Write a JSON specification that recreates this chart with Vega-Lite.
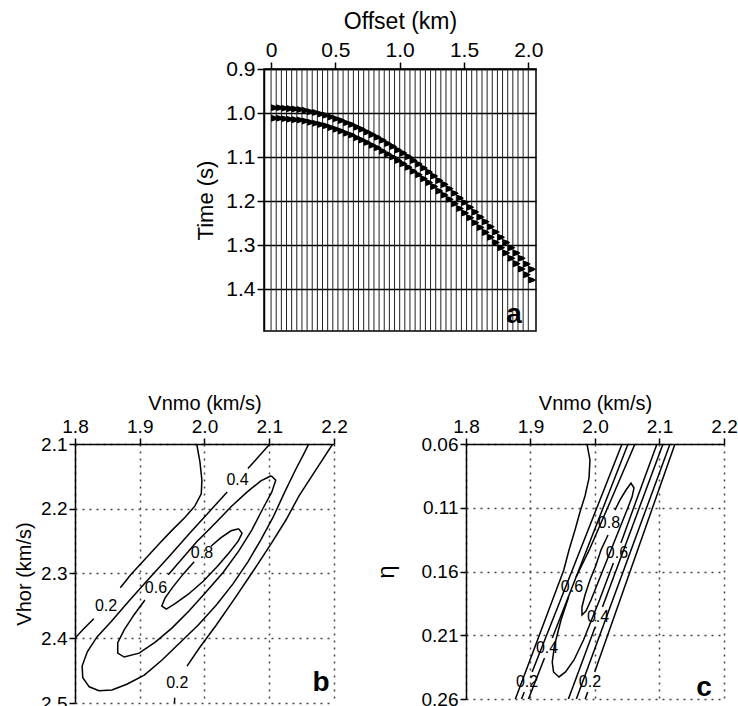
{
"$schema": "https://vega.github.io/schema/vega-lite/v6.json",
"padding": {"left": 14, "top": 9, "right": 0, "bottom": 0},
"spacing": 60,
"config": {
  "view": {"stroke": null},
  "axis": {"labelFont": "Liberation Sans", "titleFont": "Liberation Sans", "labelColor": "#000", "titleColor": "#000", "domainColor": "#000", "tickColor": "#000", "titleFontWeight": "normal", "labelFlush": false, "labelOverlap": false, "domainWidth": 1.5, "tickWidth": 1.5},
  "text": {"font": "Liberation Sans", "color": "#000"}
},
"vconcat": [
  {"hconcat": [
    {"width": 119, "height": 262, "data": {"values": []}, "mark": "point"},
    {"width": 272, "height": 262,
     "view": {"stroke": "#000", "strokeWidth": 1.5},
     "data": {"values": "o,t,x\n0,0.98,0\n0,0.984,0.04\n0,0.988,0.06\n0,0.992,0.04\n0,0.996,0\n0,1.004,0\n0,1.008,0.04\n0,1.012,0.06\n0,1.016,0.04\n0,1.02,0\n0.04,0.98,0.04\n0.04,0.984,0.08\n0.04,0.988,0.1\n0.04,0.992,0.08\n0.04,0.996,0.04\n0.04,1.004,0.04\n0.04,1.008,0.08\n0.04,1.012,0.1\n0.04,1.016,0.08\n0.04,1.02,0.04\n0.08,0.981,0.08\n0.08,0.985,0.12\n0.08,0.989,0.14\n0.08,0.993,0.12\n0.08,0.997,0.08\n0.08,1.005,0.08\n0.08,1.009,0.12\n0.08,1.013,0.14\n0.08,1.017,0.12\n0.08,1.021,0.08\n0.12,0.982,0.12\n0.12,0.986,0.16\n0.12,0.99,0.18\n0.12,0.994,0.16\n0.12,0.998,0.12\n0.12,1.006,0.12\n0.12,1.01,0.16\n0.12,1.014,0.18\n0.12,1.018,0.16\n0.12,1.022,0.12\n0.16,0.983,0.16\n0.16,0.987,0.2\n0.16,0.991,0.22\n0.16,0.995,0.2\n0.16,0.999,0.16\n0.16,1.007,0.16\n0.16,1.011,0.2\n0.16,1.015,0.22\n0.16,1.019,0.2\n0.16,1.023,0.16\n0.2,0.984,0.2\n0.2,0.988,0.24\n0.2,0.992,0.26\n0.2,0.996,0.24\n0.2,1,0.2\n0.2,1.008,0.2\n0.2,1.012,0.24\n0.2,1.016,0.26\n0.2,1.02,0.24\n0.2,1.024,0.2\n0.24,0.986,0.24\n0.24,0.99,0.28\n0.24,0.994,0.3\n0.24,0.998,0.28\n0.24,1.002,0.24\n0.24,1.01,0.24\n0.24,1.014,0.28\n0.24,1.018,0.3\n0.24,1.022,0.28\n0.24,1.026,0.24\n0.28,0.989,0.28\n0.28,0.993,0.32\n0.28,0.997,0.34\n0.28,1.001,0.32\n0.28,1.005,0.28\n0.28,1.013,0.28\n0.28,1.017,0.32\n0.28,1.021,0.34\n0.28,1.025,0.32\n0.28,1.029,0.28\n0.32,0.991,0.32\n0.32,0.995,0.36\n0.32,0.999,0.38\n0.32,1.003,0.36\n0.32,1.007,0.32\n0.32,1.015,0.32\n0.32,1.019,0.36\n0.32,1.023,0.38\n0.32,1.027,0.36\n0.32,1.031,0.32\n0.36,0.994,0.36\n0.36,0.998,0.4\n0.36,1.002,0.42\n0.36,1.006,0.4\n0.36,1.01,0.36\n0.36,1.018,0.36\n0.36,1.022,0.4\n0.36,1.026,0.42\n0.36,1.03,0.4\n0.36,1.034,0.36\n0.4,0.997,0.4\n0.4,1.001,0.44\n0.4,1.005,0.46\n0.4,1.009,0.44\n0.4,1.013,0.4\n0.4,1.021,0.4\n0.4,1.025,0.44\n0.4,1.029,0.46\n0.4,1.033,0.44\n0.4,1.037,0.4\n0.44,1.001,0.44\n0.44,1.005,0.48\n0.44,1.009,0.5\n0.44,1.013,0.48\n0.44,1.017,0.44\n0.44,1.025,0.44\n0.44,1.029,0.48\n0.44,1.033,0.5\n0.44,1.037,0.48\n0.44,1.041,0.44\n0.48,1.005,0.48\n0.48,1.009,0.52\n0.48,1.013,0.54\n0.48,1.017,0.52\n0.48,1.021,0.48\n0.48,1.029,0.48\n0.48,1.033,0.52\n0.48,1.037,0.54\n0.48,1.041,0.52\n0.48,1.045,0.48\n0.52,1.009,0.52\n0.52,1.013,0.56\n0.52,1.017,0.58\n0.52,1.021,0.56\n0.52,1.025,0.52\n0.52,1.033,0.52\n0.52,1.037,0.56\n0.52,1.041,0.58\n0.52,1.045,0.56\n0.52,1.049,0.52\n0.56,1.014,0.56\n0.56,1.018,0.6\n0.56,1.022,0.62\n0.56,1.026,0.6\n0.56,1.03,0.56\n0.56,1.038,0.56\n0.56,1.042,0.6\n0.56,1.046,0.62\n0.56,1.05,0.6\n0.56,1.054,0.56\n0.6,1.018,0.6\n0.6,1.022,0.64\n0.6,1.026,0.66\n0.6,1.03,0.64\n0.6,1.034,0.6\n0.6,1.042,0.6\n0.6,1.046,0.64\n0.6,1.05,0.66\n0.6,1.054,0.64\n0.6,1.058,0.6\n0.64,1.024,0.64\n0.64,1.028,0.68\n0.64,1.032,0.7\n0.64,1.036,0.68\n0.64,1.04,0.64\n0.64,1.048,0.64\n0.64,1.052,0.68\n0.64,1.056,0.7\n0.64,1.06,0.68\n0.64,1.064,0.64\n0.68,1.029,0.68\n0.68,1.033,0.72\n0.68,1.037,0.74\n0.68,1.041,0.72\n0.68,1.045,0.68\n0.68,1.053,0.68\n0.68,1.057,0.72\n0.68,1.061,0.74\n0.68,1.065,0.72\n0.68,1.069,0.68\n0.72,1.035,0.72\n0.72,1.039,0.76\n0.72,1.043,0.78\n0.72,1.047,0.76\n0.72,1.051,0.72\n0.72,1.059,0.72\n0.72,1.063,0.76\n0.72,1.067,0.78\n0.72,1.071,0.76\n0.72,1.075,0.72\n0.76,1.041,0.76\n0.76,1.045,0.8\n0.76,1.049,0.82\n0.76,1.053,0.8\n0.76,1.057,0.76\n0.76,1.065,0.76\n0.76,1.069,0.8\n0.76,1.073,0.82\n0.76,1.077,0.8\n0.76,1.081,0.76\n0.8,1.047,0.8\n0.8,1.051,0.84\n0.8,1.055,0.86\n0.8,1.059,0.84\n0.8,1.063,0.8\n0.8,1.071,0.8\n0.8,1.075,0.84\n0.8,1.079,0.86\n0.8,1.083,0.84\n0.8,1.087,0.8\n0.84,1.054,0.84\n0.84,1.058,0.88\n0.84,1.062,0.9\n0.84,1.066,0.88\n0.84,1.07,0.84\n0.84,1.078,0.84\n0.84,1.082,0.88\n0.84,1.086,0.9\n0.84,1.09,0.88\n0.84,1.094,0.84\n0.88,1.061,0.88\n0.88,1.065,0.92\n0.88,1.069,0.94\n0.88,1.073,0.92\n0.88,1.077,0.88\n0.88,1.085,0.88\n0.88,1.089,0.92\n0.88,1.093,0.94\n0.88,1.097,0.92\n0.88,1.101,0.88\n0.92,1.068,0.92\n0.92,1.072,0.96\n0.92,1.076,0.98\n0.92,1.08,0.96\n0.92,1.084,0.92\n0.92,1.092,0.92\n0.92,1.096,0.96\n0.92,1.1,0.98\n0.92,1.104,0.96\n0.92,1.108,0.92\n0.96,1.076,0.96\n0.96,1.08,1\n0.96,1.084,1.02\n0.96,1.088,1\n0.96,1.092,0.96\n0.96,1.1,0.96\n0.96,1.104,1\n0.96,1.108,1.02\n0.96,1.112,1\n0.96,1.116,0.96\n1,1.083,1\n1,1.087,1.04\n1,1.091,1.06\n1,1.095,1.04\n1,1.099,1\n1,1.107,1\n1,1.111,1.04\n1,1.115,1.06\n1,1.119,1.04\n1,1.123,1\n1.04,1.091,1.04\n1.04,1.095,1.08\n1.04,1.099,1.1\n1.04,1.103,1.08\n1.04,1.107,1.04\n1.04,1.115,1.04\n1.04,1.119,1.08\n1.04,1.123,1.1\n1.04,1.127,1.08\n1.04,1.131,1.04\n1.08,1.1,1.08\n1.08,1.104,1.12\n1.08,1.108,1.14\n1.08,1.112,1.12\n1.08,1.116,1.08\n1.08,1.124,1.08\n1.08,1.128,1.12\n1.08,1.132,1.14\n1.08,1.136,1.12\n1.08,1.14,1.08\n1.12,1.108,1.12\n1.12,1.112,1.16\n1.12,1.116,1.18\n1.12,1.12,1.16\n1.12,1.124,1.12\n1.12,1.132,1.12\n1.12,1.136,1.16\n1.12,1.14,1.18\n1.12,1.144,1.16\n1.12,1.148,1.12\n1.16,1.117,1.16\n1.16,1.121,1.2\n1.16,1.125,1.22\n1.16,1.129,1.2\n1.16,1.133,1.16\n1.16,1.141,1.16\n1.16,1.145,1.2\n1.16,1.149,1.22\n1.16,1.153,1.2\n1.16,1.157,1.16\n1.2,1.126,1.2\n1.2,1.13,1.24\n1.2,1.134,1.26\n1.2,1.138,1.24\n1.2,1.142,1.2\n1.2,1.15,1.2\n1.2,1.154,1.24\n1.2,1.158,1.26\n1.2,1.162,1.24\n1.2,1.166,1.2\n1.24,1.135,1.24\n1.24,1.139,1.28\n1.24,1.143,1.3\n1.24,1.147,1.28\n1.24,1.151,1.24\n1.24,1.159,1.24\n1.24,1.163,1.28\n1.24,1.167,1.3\n1.24,1.171,1.28\n1.24,1.175,1.24\n1.28,1.145,1.28\n1.28,1.149,1.32\n1.28,1.153,1.34\n1.28,1.157,1.32\n1.28,1.161,1.28\n1.28,1.169,1.28\n1.28,1.173,1.32\n1.28,1.177,1.34\n1.28,1.181,1.32\n1.28,1.185,1.28\n1.32,1.154,1.32\n1.32,1.158,1.36\n1.32,1.162,1.38\n1.32,1.166,1.36\n1.32,1.17,1.32\n1.32,1.178,1.32\n1.32,1.182,1.36\n1.32,1.186,1.38\n1.32,1.19,1.36\n1.32,1.194,1.32\n1.36,1.164,1.36\n1.36,1.168,1.4\n1.36,1.172,1.42\n1.36,1.176,1.4\n1.36,1.18,1.36\n1.36,1.188,1.36\n1.36,1.192,1.4\n1.36,1.196,1.42\n1.36,1.2,1.4\n1.36,1.204,1.36\n1.4,1.174,1.4\n1.4,1.178,1.44\n1.4,1.182,1.46\n1.4,1.186,1.44\n1.4,1.19,1.4\n1.4,1.198,1.4\n1.4,1.202,1.44\n1.4,1.206,1.46\n1.4,1.21,1.44\n1.4,1.214,1.4\n1.44,1.185,1.44\n1.44,1.189,1.48\n1.44,1.193,1.5\n1.44,1.197,1.48\n1.44,1.201,1.44\n1.44,1.209,1.44\n1.44,1.213,1.48\n1.44,1.217,1.5\n1.44,1.221,1.48\n1.44,1.225,1.44\n1.48,1.195,1.48\n1.48,1.199,1.52\n1.48,1.203,1.54\n1.48,1.207,1.52\n1.48,1.211,1.48\n1.48,1.219,1.48\n1.48,1.223,1.52\n1.48,1.227,1.54\n1.48,1.231,1.52\n1.48,1.235,1.48\n1.52,1.206,1.52\n1.52,1.21,1.56\n1.52,1.214,1.58\n1.52,1.218,1.56\n1.52,1.222,1.52\n1.52,1.23,1.52\n1.52,1.234,1.56\n1.52,1.238,1.58\n1.52,1.242,1.56\n1.52,1.246,1.52\n1.56,1.217,1.56\n1.56,1.221,1.6\n1.56,1.225,1.62\n1.56,1.229,1.6\n1.56,1.233,1.56\n1.56,1.241,1.56\n1.56,1.245,1.6\n1.56,1.249,1.62\n1.56,1.253,1.6\n1.56,1.257,1.56\n1.6,1.228,1.6\n1.6,1.232,1.64\n1.6,1.236,1.66\n1.6,1.24,1.64\n1.6,1.244,1.6\n1.6,1.252,1.6\n1.6,1.256,1.64\n1.6,1.26,1.66\n1.6,1.264,1.64\n1.6,1.268,1.6\n1.64,1.239,1.64\n1.64,1.243,1.68\n1.64,1.247,1.7\n1.64,1.251,1.68\n1.64,1.255,1.64\n1.64,1.263,1.64\n1.64,1.267,1.68\n1.64,1.271,1.7\n1.64,1.275,1.68\n1.64,1.279,1.64\n1.68,1.25,1.68\n1.68,1.254,1.72\n1.68,1.258,1.74\n1.68,1.262,1.72\n1.68,1.266,1.68\n1.68,1.274,1.68\n1.68,1.278,1.72\n1.68,1.282,1.74\n1.68,1.286,1.72\n1.68,1.29,1.68\n1.72,1.262,1.72\n1.72,1.266,1.76\n1.72,1.27,1.78\n1.72,1.274,1.76\n1.72,1.278,1.72\n1.72,1.286,1.72\n1.72,1.29,1.76\n1.72,1.294,1.78\n1.72,1.298,1.76\n1.72,1.302,1.72\n1.76,1.274,1.76\n1.76,1.278,1.8\n1.76,1.282,1.82\n1.76,1.286,1.8\n1.76,1.29,1.76\n1.76,1.298,1.76\n1.76,1.302,1.8\n1.76,1.306,1.82\n1.76,1.31,1.8\n1.76,1.314,1.76\n1.8,1.286,1.8\n1.8,1.29,1.84\n1.8,1.294,1.86\n1.8,1.298,1.84\n1.8,1.302,1.8\n1.8,1.31,1.8\n1.8,1.314,1.84\n1.8,1.318,1.86\n1.8,1.322,1.84\n1.8,1.326,1.8\n1.84,1.298,1.84\n1.84,1.302,1.88\n1.84,1.306,1.9\n1.84,1.31,1.88\n1.84,1.314,1.84\n1.84,1.322,1.84\n1.84,1.326,1.88\n1.84,1.33,1.9\n1.84,1.334,1.88\n1.84,1.338,1.84\n1.88,1.31,1.88\n1.88,1.314,1.92\n1.88,1.318,1.94\n1.88,1.322,1.92\n1.88,1.326,1.88\n1.88,1.334,1.88\n1.88,1.338,1.92\n1.88,1.342,1.94\n1.88,1.346,1.92\n1.88,1.35,1.88\n1.92,1.322,1.92\n1.92,1.326,1.96\n1.92,1.33,1.98\n1.92,1.334,1.96\n1.92,1.338,1.92\n1.92,1.346,1.92\n1.92,1.35,1.96\n1.92,1.354,1.98\n1.92,1.358,1.96\n1.92,1.362,1.92\n1.96,1.335,1.96\n1.96,1.339,2\n1.96,1.343,2.02\n1.96,1.347,2\n1.96,1.351,1.96\n1.96,1.359,1.96\n1.96,1.363,2\n1.96,1.367,2.02\n1.96,1.371,2\n1.96,1.375,1.96\n2,1.347,2\n2,1.351,2.04\n2,1.355,2.06\n2,1.359,2.04\n2,1.363,2\n2,1.371,2\n2,1.375,2.04\n2,1.379,2.06\n2,1.383,2.04\n2,1.387,2", "format": {"type": "csv", "parse": {"o": "number", "t": "number", "x": "number"}}},
     "layer": [
        {"transform": [{"aggregate": [], "groupby": ["o"]}],
         "mark": {"type": "rule", "color": "#222", "strokeWidth": 1},
         "encoding": {"x": {"field": "o", "type": "quantitative", "scale": {"domain": [-0.055, 2.06], "nice": false, "zero": false},
           "axis": {"orient": "top", "values": [0, 0.5, 1, 1.5, 2], "labelExpr": "datum.value == 0 ? '0' : format(datum.value, '.1f')", "title": "Offset (km)", "titleFontSize": 23, "labelFontSize": 21, "tickSize": 7, "labelPadding": 2, "titlePadding": 6, "grid": false}}}},
        {"mark": {"type": "area", "orient": "horizontal", "color": "#000", "opacity": 1, "clip": true},
         "encoding": {"x": {"field": "x", "type": "quantitative", "stack": null}, "x2": {"field": "o"}, "y": {"field": "t", "type": "quantitative", "scale": {"domain": [0.9, 1.495], "reverse": true, "nice": false, "zero": false},
           "axis": {"values": [0.9, 1.0, 1.1, 1.2, 1.3, 1.4], "format": ".1f", "title": "Time (s)", "titleFontSize": 22, "labelFontSize": 21, "tickSize": 7, "labelPadding": 2, "titlePadding": 8, "grid": true, "gridColor": "#000", "gridWidth": 1.5, "gridOpacity": 1}},
           "detail": {"field": "o"}}},
        {"data": {"values": [{"x": 1.889, "t": 1.459, "s": "a"}]},
         "mark": {"type": "text", "fontSize": 28, "fontWeight": "bold"},
         "encoding": {"x": {"field": "x", "type": "quantitative"}, "y": {"field": "t", "type": "quantitative"}, "text": {"field": "s"}}}
     ]}
  ], "spacing": 0},
  {"hconcat": [
    {"width": 259, "height": 259,
     "encoding": {
         "x": {"field": "v", "type": "quantitative", "scale": {"domain": [1.8, 2.2], "nice": false, "zero": false},
           "axis": {"orient": "top", "values": [1.8, 1.9, 2.0, 2.1, 2.2], "format": ".1f", "title": "Vnmo (km/s)", "titleFontSize": 20, "labelFontSize": 19, "tickSize": 6, "labelPadding": 2, "titlePadding": 4, "grid": true, "gridDash": [2, 5], "gridColor": "#444", "gridWidth": 1.5}},
         "y": {"field": "h", "type": "quantitative", "scale": {"domain": [2.1, 2.5], "reverse": true, "nice": false, "zero": false},
           "axis": {"values": [2.1, 2.2, 2.3, 2.4, 2.5], "format": ".1f", "title": "Vhor (km/s)", "titleFontSize": 20, "labelFontSize": 19, "tickSize": 6, "labelPadding": 2, "titlePadding": 6, "grid": true, "gridDash": [2, 5], "gridColor": "#444", "gridWidth": 1.5}}},
     "layer": [
      {"data": {"values": "id,k,v,h\nb1,1,1.988,2.1\nb1,2,1.993,2.128\nb1,3,1.996,2.156\nb1,4,1.995,2.177\nb1,5,1.985,2.196\nb1,6,1.97,2.213\nb1,7,1.95,2.233\nb1,8,1.93,2.254\nb1,9,1.908,2.278\nb1,10,1.886,2.302\nb1,11,1.87,2.322\nb2,1,1.829,2.37\nb2,2,1.812,2.387\nb2,3,1.8,2.4\nb2,4,1.791,2.409\nb3,1,2.101,2.1\nb3,2,2.084,2.119\nb3,3,2.067,2.138\nb4,1,2.035,2.174\nb4,2,2.007,2.205\nb4,3,1.976,2.239\nb4,4,1.945,2.274\nb4,5,1.914,2.308\nb4,6,1.883,2.343\nb4,7,1.856,2.374\nb4,8,1.834,2.398\nb4,9,1.819,2.421\nb4,10,1.811,2.443\nb4,11,1.812,2.461\nb4,12,1.822,2.475\nb4,13,1.837,2.481\nb4,14,1.857,2.48\nb4,15,1.88,2.471\nb4,16,1.907,2.457\nb4,17,1.934,2.434\nb4,18,1.962,2.407\nb4,19,1.99,2.38\nb4,20,2.018,2.349\nb4,21,2.044,2.316\nb4,22,2.067,2.282\nb4,23,2.087,2.248\nb4,24,2.106,2.213\nb4,25,2.124,2.174\nb4,26,2.141,2.139\nb4,27,2.154,2.114\nb4,28,2.161,2.1\nb4,29,2.164,2.092\nb5,1,2.103,2.149\nb5,2,2.087,2.157\nb5,3,2.066,2.174\nb5,4,2.041,2.197\nb5,5,2.015,2.224\nb5,6,1.988,2.251\nb5,7,1.962,2.281\nb5,8,1.944,2.302\nb6,1,1.908,2.341\nb6,2,1.891,2.364\nb6,3,1.876,2.387\nb6,4,1.866,2.407\nb6,5,1.866,2.423\nb6,6,1.876,2.429\nb6,7,1.899,2.423\nb6,8,1.924,2.406\nb6,9,1.95,2.384\nb6,10,1.976,2.358\nb6,11,2.002,2.329\nb6,12,2.029,2.298\nb6,13,2.053,2.265\nb6,14,2.073,2.233\nb6,15,2.09,2.2\nb6,16,2.104,2.174\nb6,17,2.11,2.156\nb6,18,2.103,2.149\nb7,1,2.053,2.231\nb7,2,2.041,2.234\nb7,3,2.025,2.245\nb7,4,2.01,2.258\nb8,1,1.984,2.282\nb8,2,1.967,2.301\nb8,3,1.951,2.321\nb8,4,1.939,2.338\nb8,5,1.934,2.35\nb8,6,1.941,2.355\nb8,7,1.954,2.347\nb8,8,1.975,2.332\nb8,9,1.998,2.312\nb8,10,2.019,2.29\nb8,11,2.038,2.268\nb8,12,2.052,2.25\nb8,13,2.058,2.238\nb8,14,2.053,2.231\nb9,1,2.198,2.1\nb9,2,2.172,2.14\nb9,3,2.146,2.18\nb9,4,2.126,2.217\nb9,5,2.103,2.254\nb9,6,2.076,2.295\nb9,7,2.047,2.338\nb9,8,2.018,2.38\nb9,9,1.992,2.415\nb9,10,1.973,2.443\nb10,1,1.954,2.492\nb10,2,1.953,2.511", "format": {"type": "csv", "parse": {"k": "number", "v": "number", "h": "number"}}},
       "mark": {"type": "line", "color": "#000", "strokeWidth": 1.5, "clip": true},
       "encoding": {"detail": {"field": "id"}, "order": {"field": "k", "type": "quantitative"}}},
      {"data": {"values": [{"v": 2.051, "h": 2.156, "s": "0.4"}, {"v": 1.996, "h": 2.268, "s": "0.8"}, {"v": 1.925, "h": 2.322, "s": "0.6"}, {"v": 1.848, "h": 2.35, "s": "0.2"}, {"v": 1.958, "h": 2.469, "s": "0.2"}]},
       "mark": {"type": "text", "fontSize": 16},
       "encoding": {"text": {"field": "s"}}},
      {"data": {"values": [{"v": 2.18, "h": 2.469, "s": "b"}]},
       "mark": {"type": "text", "fontSize": 28, "fontWeight": "bold"},
       "encoding": {"text": {"field": "s"}}}
     ]},
    {"width": 258, "height": 255,
     "encoding": {
         "x": {"field": "v", "type": "quantitative", "scale": {"domain": [1.8, 2.2], "nice": false, "zero": false},
           "axis": {"orient": "top", "values": [1.8, 1.9, 2.0, 2.1, 2.2], "format": ".1f", "title": "Vnmo (km/s)", "titleFontSize": 20, "labelFontSize": 19, "tickSize": 6, "labelPadding": 2, "titlePadding": 4, "grid": true, "gridDash": [2, 5], "gridColor": "#444", "gridWidth": 1.5}},
         "y": {"field": "e", "type": "quantitative", "scale": {"domain": [0.06, 0.26], "reverse": true, "nice": false, "zero": false},
           "axis": {"values": [0.06, 0.11, 0.16, 0.21, 0.26], "format": ".2f", "title": "η", "titleFontSize": 24, "labelFontSize": 19, "tickSize": 6, "labelPadding": 2, "titlePadding": 23, "grid": true, "gridDash": [2, 5], "gridColor": "#444", "gridWidth": 1.5}}},
     "layer": [
      {"data": {"values": "id,k,v,e\nL1a,1,2.0419,0.06\nL1a,2,1.9025,0.2388\nL1b,1,1.8904,0.2545\nL1b,2,1.8818,0.2655\nL2a,1,2.0512,0.06\nL2a,2,1.9338,0.2122\nL2b,1,1.9217,0.2278\nL2b,2,1.8926,0.2655\nW,1,1.9876,0.06\nW,2,1.9922,0.0725\nW,3,1.9907,0.0867\nW,4,1.9845,0.1008\nW,5,1.9767,0.1133\nW,6,1.969,0.1275\nW,7,1.9597,0.1431\nW,8,1.9516,0.1588\nW,9,1.8725,0.2655\nSA,1,2.0285,0.1533\nSA,2,2.007,0.1824\nSA,3,1.9822,0.2137\nSA,4,1.9674,0.2294\nSA,5,1.9543,0.2388\nSA,6,1.9442,0.2427\nSA,7,1.9357,0.2388\nSA,8,1.9337,0.231\nSA,9,1.9374,0.2176\nSA,10,1.9473,0.198\nSA,11,1.9591,0.18\nSB,1,1.9707,0.1643\nSB,2,1.9911,0.1431\nSB,3,2.0248,0.1039\nSB,4,2.062,0.06\nSC,1,2.0961,0.06\nSC,2,2.0643,0.1039\nSC,3,2.0402,0.1376\nSD,1,2.0202,0.1314\nSD,2,2.0093,0.1431\nSD,3,2.0016,0.1549\nSD,4,1.9922,0.1667\nSD,5,1.9845,0.1784\nSD,6,1.9798,0.1878\nSD,7,1.9798,0.1941\nSD,8,1.986,0.191\nSD,9,1.9938,0.1824\nSD,10,2.0031,0.1706\nSD,11,2.0124,0.1588\nSD,12,2.0217,0.1471\nSD,13,2.031,0.1353\nSD,14,2.0403,0.1235\nSD,15,2.0496,0.1118\nSD,16,2.0574,0.1016\nSD,17,2.0605,0.0945\nSD,18,2.0558,0.0906\nSD,19,2.0481,0.0961\nSD,20,2.0388,0.1039\nSD,21,2.031,0.1118\nR2a,1,2.1054,0.06\nR2a,2,2.0116,0.1878\nR2b,1,2.0002,0.2035\nR2b,2,1.9547,0.2655\nR1,1,2.1163,0.06\nR1,2,1.9671,0.2655\nR0a,1,2.124,0.06\nR0a,2,1.9995,0.2388\nR0b,1,1.9887,0.2545\nR0b,2,1.981,0.2655", "format": {"type": "csv", "parse": {"k": "number", "v": "number", "e": "number"}}},
       "mark": {"type": "line", "color": "#000", "strokeWidth": 1.5, "clip": true},
       "encoding": {"detail": {"field": "id"}, "order": {"field": "k", "type": "quantitative"}}},
      {"data": {"values": [{"v": 2.0217, "e": 0.122, "s": "0.8"}, {"v": 2.0341, "e": 0.1455, "s": "0.6"}, {"v": 1.9643, "e": 0.1722, "s": "0.6"}, {"v": 2.0047, "e": 0.1957, "s": "0.4"}, {"v": 1.9256, "e": 0.22, "s": "0.4"}, {"v": 1.8946, "e": 0.2467, "s": "0.2"}, {"v": 1.9922, "e": 0.2467, "s": "0.2"}]},
       "mark": {"type": "text", "fontSize": 16},
       "encoding": {"text": {"field": "s"}}},
      {"data": {"values": [{"v": 2.169, "e": 0.2514, "s": "c"}]},
       "mark": {"type": "text", "fontSize": 28, "fontWeight": "bold"},
       "encoding": {"text": {"field": "s"}}}
     ]}
  ], "spacing": 26}
]
}
